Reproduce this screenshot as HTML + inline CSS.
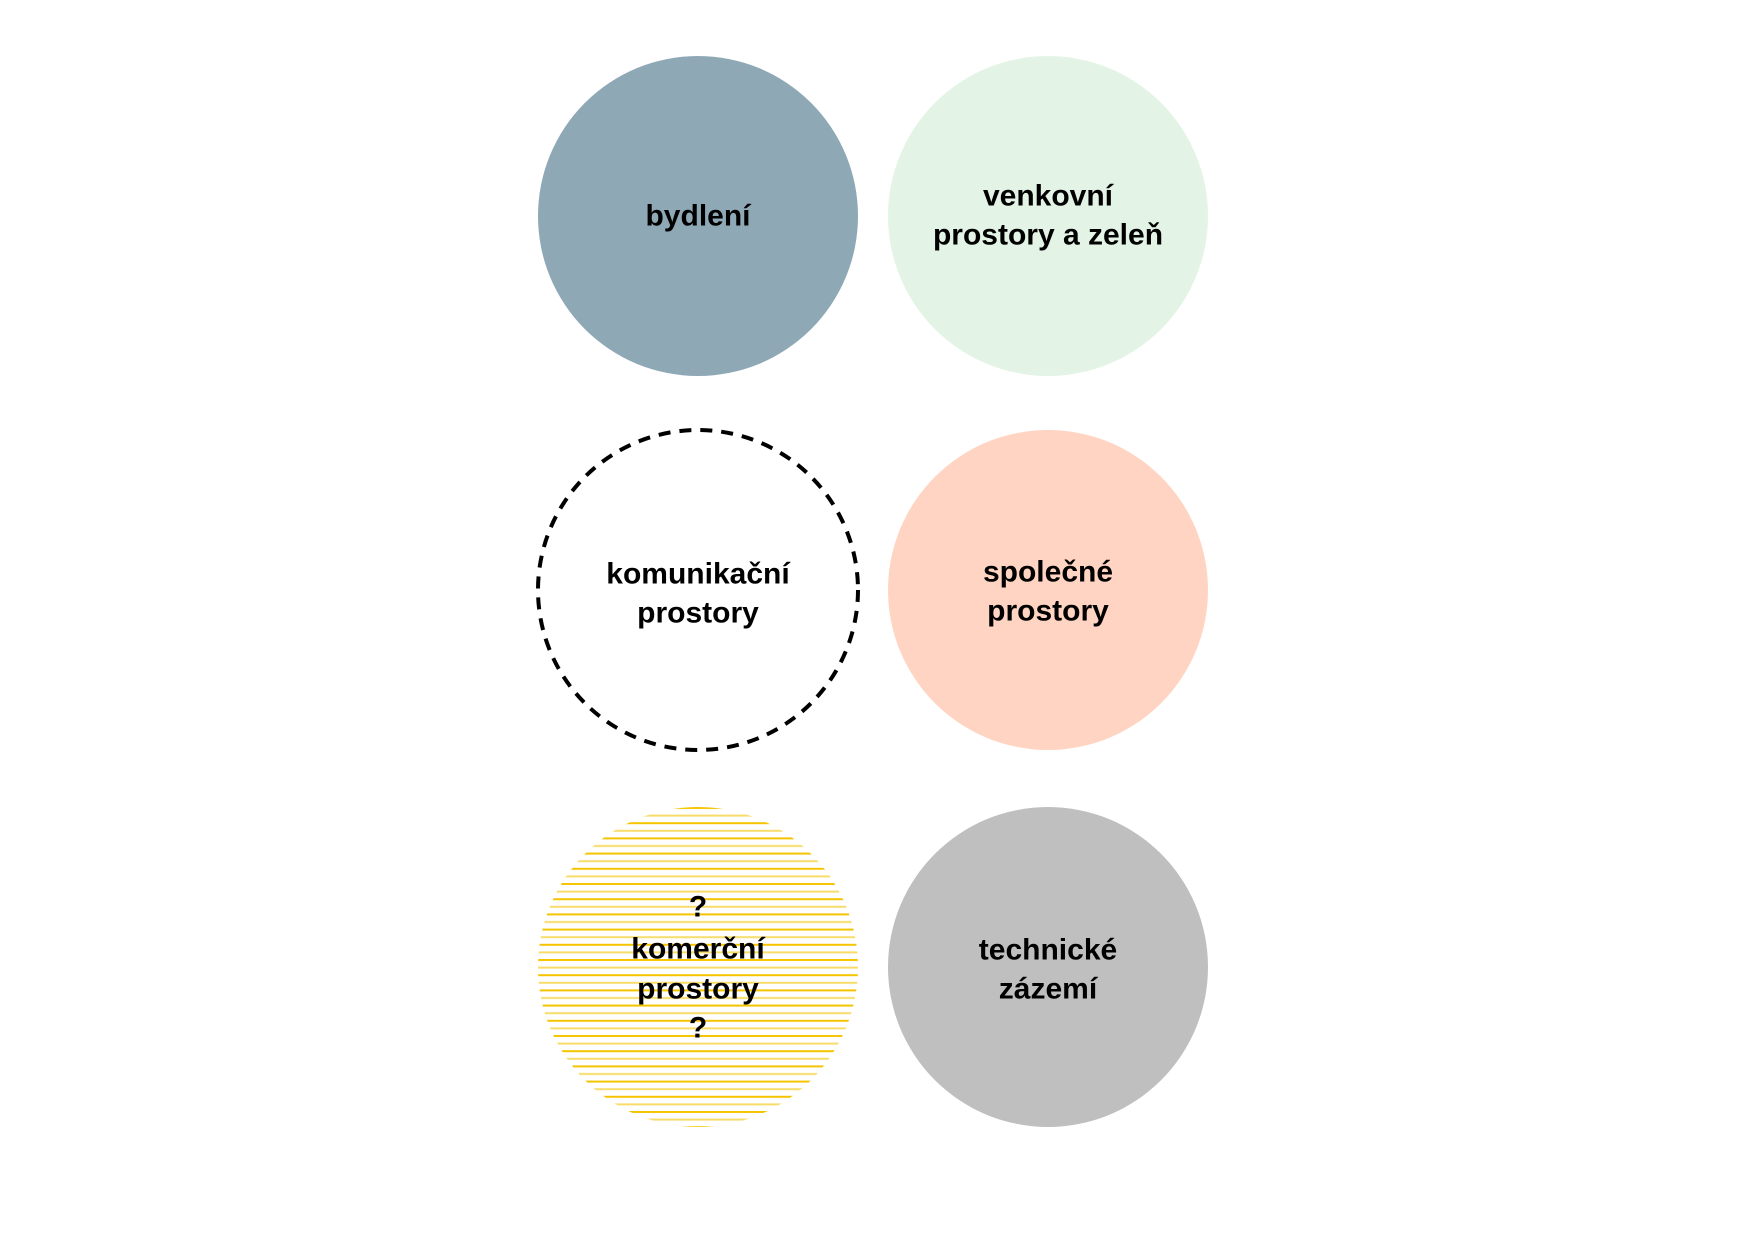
<!DOCTYPE html>
<html><head><meta charset="utf-8"><style>
html,body{margin:0;padding:0;background:#fff}
svg{display:block}
text{font-family:"Liberation Sans",sans-serif;font-weight:bold;font-size:30px;fill:#000;text-anchor:middle;dominant-baseline:central}
</style></head><body>
<svg width="1749" height="1241" viewBox="0 0 1749 1241" xmlns="http://www.w3.org/2000/svg">
<defs>
<pattern id="st" patternUnits="userSpaceOnUse" width="10" height="15.2" y="807">
<rect x="0" y="0" width="10" height="2" fill="#f5c400"/>
<rect x="0" y="7.6" width="10" height="2" fill="#f8dc6a"/>
</pattern>
</defs>
<circle cx="698" cy="216" r="160" fill="#8fa8b6"/>
<circle cx="1048" cy="216" r="160" fill="#e3f4e6"/>
<circle cx="698" cy="590" r="160" fill="none" stroke="#000" stroke-width="4" stroke-dasharray="12 9"/>
<circle cx="1048" cy="590" r="160" fill="#ffd4c2"/>
<circle cx="698" cy="967" r="160" fill="url(#st)"/>
<circle cx="1048" cy="967" r="160" fill="#bfbfbf"/>
<text x="698" y="216">bydlení</text>
<text x="1048" y="196">venkovní</text>
<text x="1048" y="235">prostory a zeleň</text>
<text x="698" y="574">komunikační</text>
<text x="698" y="613">prostory</text>
<text x="1048" y="572">společné</text>
<text x="1048" y="611">prostory</text>
<text x="698" y="907">?</text>
<text x="698" y="949">komerční</text>
<text x="698" y="989">prostory</text>
<text x="698" y="1028">?</text>
<text x="1048" y="950">technické</text>
<text x="1048" y="989">zázemí</text>
</svg>
</body></html>
